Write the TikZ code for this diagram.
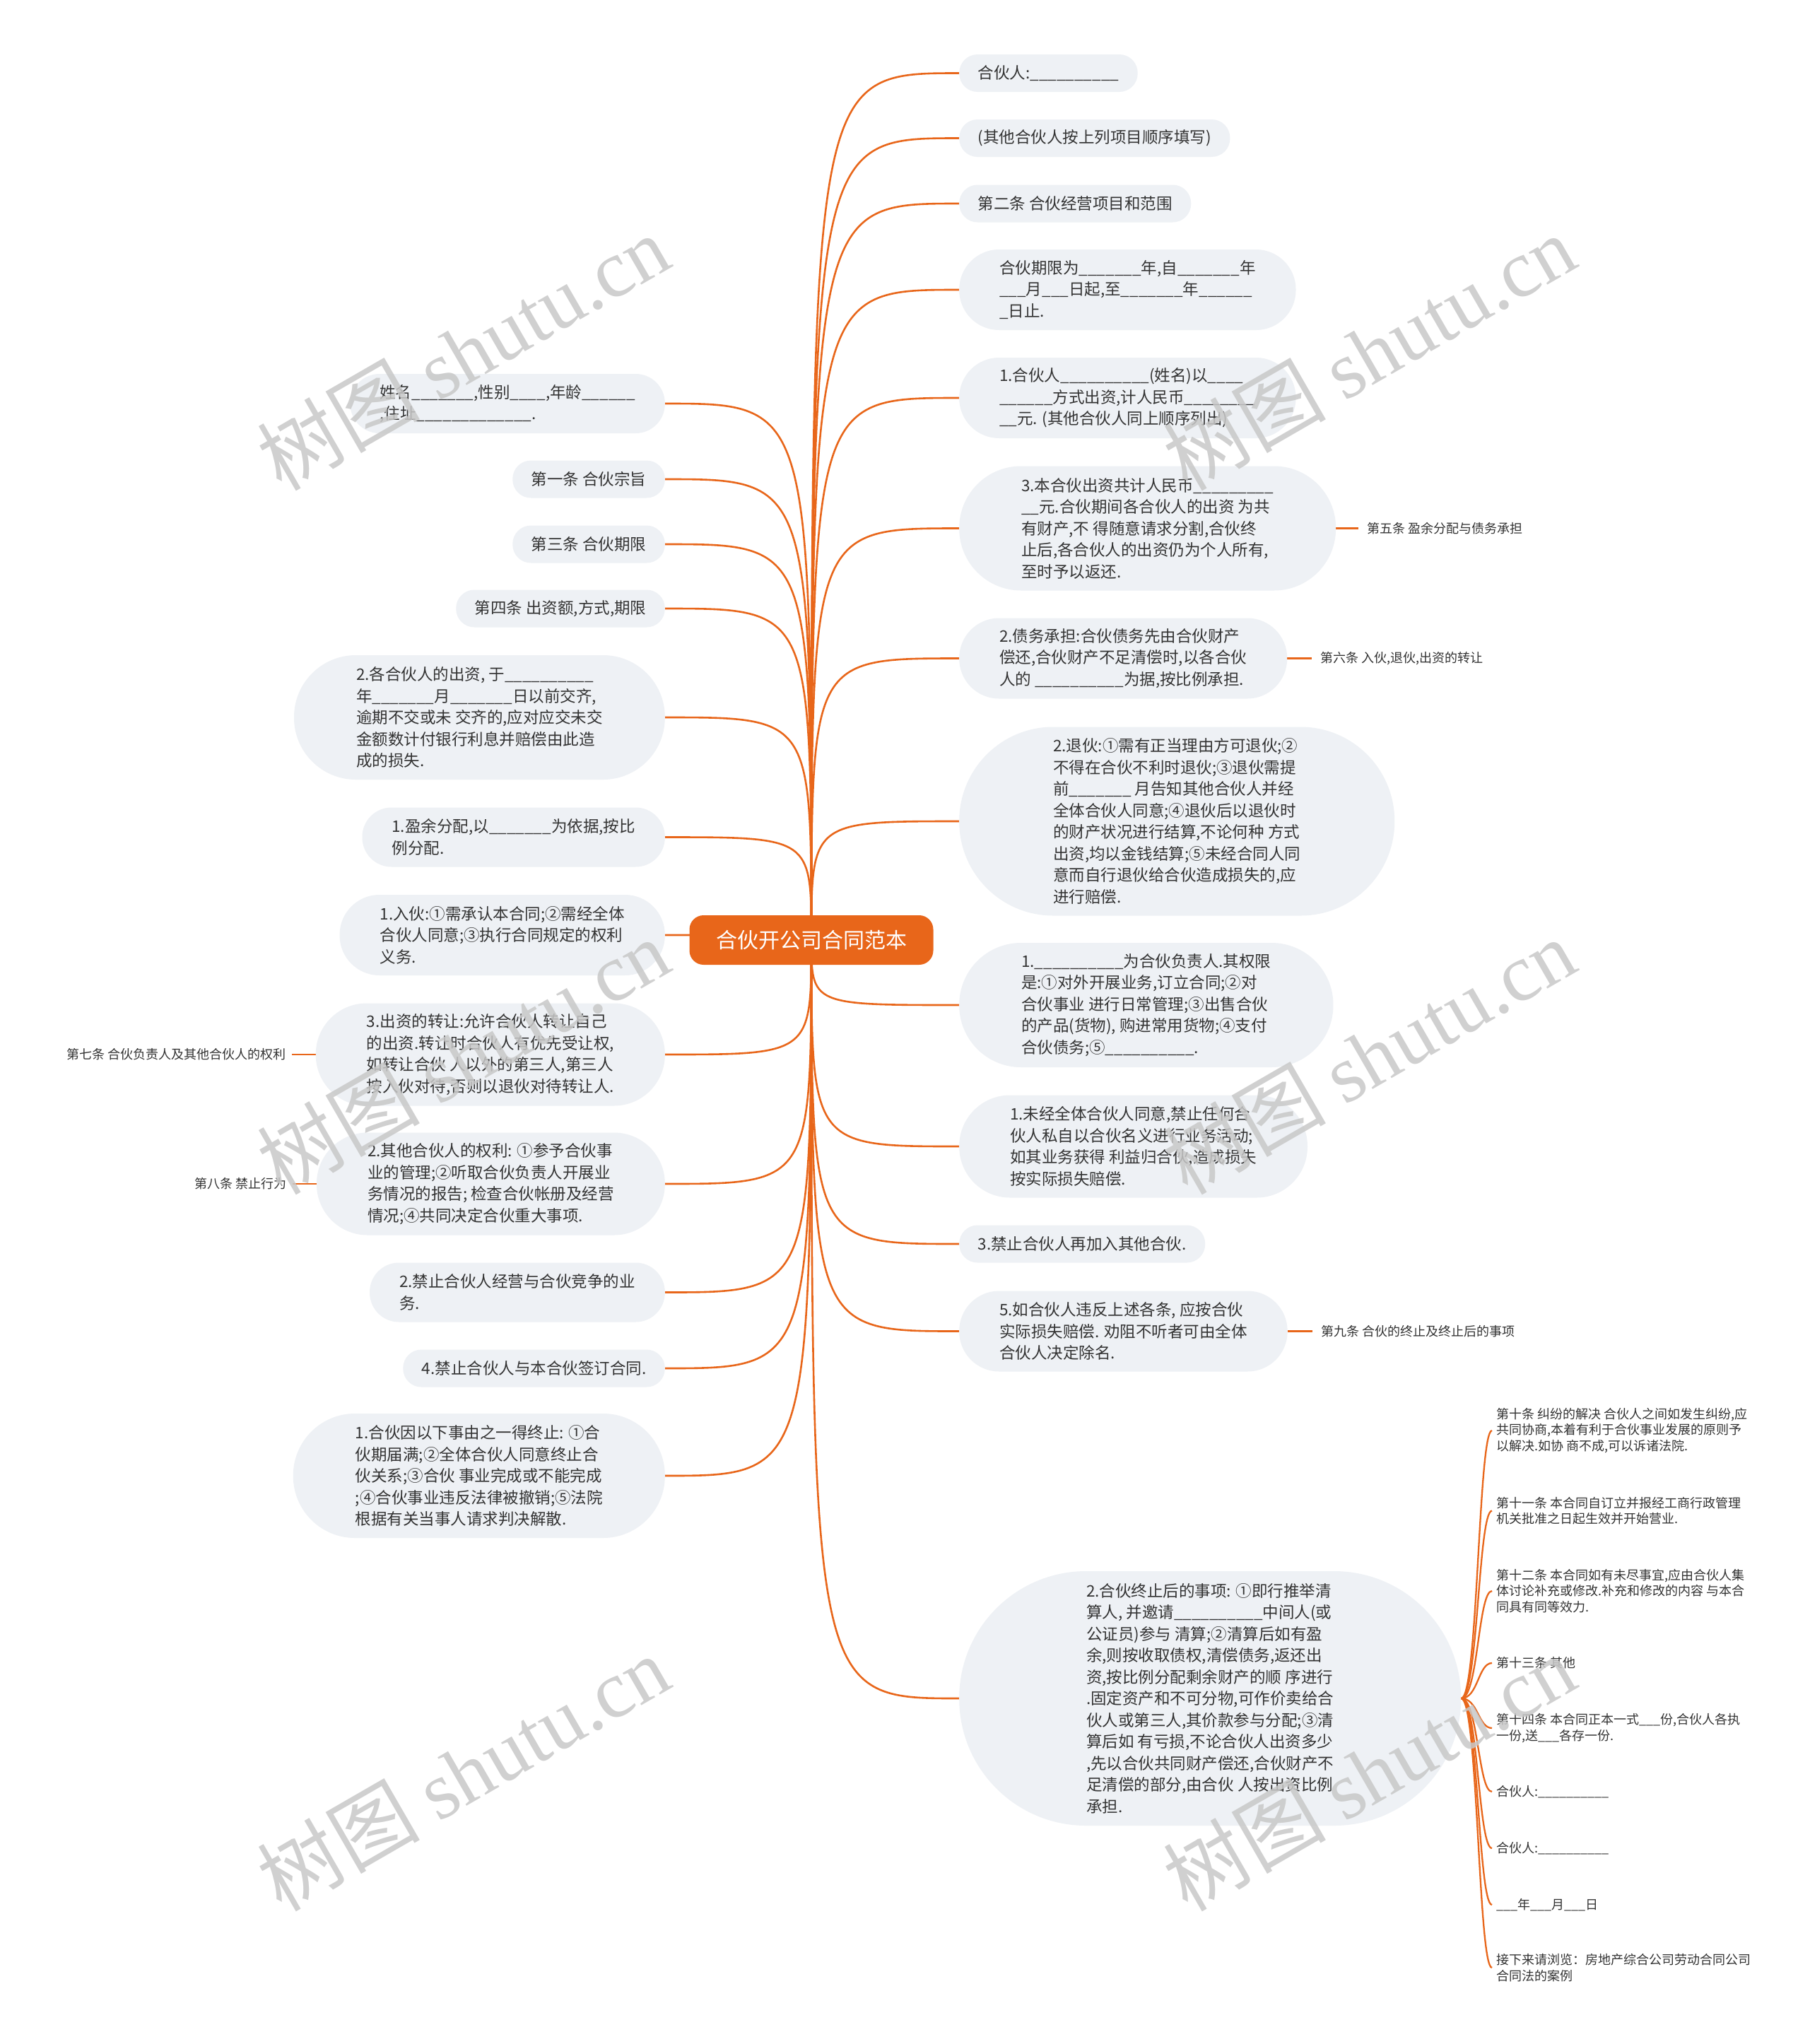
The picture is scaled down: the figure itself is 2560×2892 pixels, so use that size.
\documentclass[tikz,border=0pt]{standalone}
\usepackage{fontspec}
\setmainfont{Noto Sans CJK SC}
\newfontfamily\wmfont{Liberation Serif}
\usetikzlibrary{positioning,calc}
\definecolor{orng}{RGB}{232,102,26}
\definecolor{boxfill}{RGB}{238,241,245}
\definecolor{txt}{RGB}{51,51,51}
\definecolor{wm}{RGB}{200,200,200}
\newcount\uscnt
\newcommand\usc[1]{\uscnt=#1\relax\loop\_\advance\uscnt by -1\relax\ifnum\uscnt>0\repeat}
\pgfdeclarelayer{back}\pgfdeclarelayer{bg}\pgfdeclarelayer{fg}
\pgfsetlayers{back,bg,main,fg}
\tikzset{
  every node/.style={text=txt},
  box/.style={rectangle, fill=boxfill, inner ysep=0pt, align=left,
    font=\fontsize{22.5}{30.5}\selectfont},
  n1/.style={box, inner xsep=26.5pt, minimum height=53pt, rounded corners=26pt},
  n2/.style={box, inner xsep=42pt, minimum height=84pt, rounded corners=41.5pt},
  n3/.style={box, inner xsep=57pt, minimum height=114pt, rounded corners=56.5pt},
  n4/.style={box, inner xsep=72pt, minimum height=145pt, rounded corners=72pt},
  n5/.style={box, inner xsep=88pt, minimum height=176pt, rounded corners=87.5pt},
  n8/.style={box, inner xsep=133pt, minimum height=267pt, rounded corners=133pt},
  n11/.style={box, inner xsep=180pt, minimum height=360pt, rounded corners=179.5pt},
  rgt/.style={anchor=west},
  lft/.style={anchor=east},
  rootbox/.style={rectangle, rounded corners=20pt, fill=orng, text=white, minimum width=345pt,
    minimum height=70pt, inner sep=0pt, font=\fontsize{30}{36}\selectfont},
  conn/.style={draw=orng, line width=2.6pt},
  lab/.style={font=\fontsize{18}{22.5}\selectfont, inner ysep=2pt, align=left},
  labR/.style={lab, inner xsep=12pt},
  labL/.style={lab, inner xsep=8pt},
  itemnode/.style={lab, anchor=west, inner xsep=6pt},
  wmark/.style={text=wm, text opacity=0.85, rotate=30, inner sep=0pt, font=\fontsize{115}{115}\selectfont}
}
\begin{document}
\begin{tikzpicture}[x=1pt,y=-1pt]
\useasboundingbox (0,0) rectangle (2560,2892);
\begin{pgfonlayer}{back}
\fill[white] (0,0) rectangle (2560,2892);
\end{pgfonlayer}

\node[rootbox] (root) at (1148,1330) {合伙开公司合同范本};

% right column
\node[n1,rgt] (R1) at (1357,103.5) {合伙人:\usc{10}};
\node[n1,rgt] (R2) at (1357,195.5) {(其他合伙人按上列项目顺序填写)};
\node[n1,rgt] (R3) at (1357,288) {第二条 合伙经营项目和范围};
\node[n3,rgt] (R4) at (1357,410) {合伙期限为\usc{7}年,自\usc{7}年\\\usc{3}月\usc{3}日起,至\usc{7}年\usc{6}\\\_日止.};
\node[n3,rgt] (R5) at (1357,563) {1.合伙人\usc{10}(姓名)以\usc{4}\\\usc{6}方式出资,计人民币\usc{8}\\\usc{2}元. (其他合伙人同上顺序列出)};
\node[n5,rgt] (R6) at (1357,747.5) {3.本合伙出资共计人民币\usc{9}\\\usc{2}元.合伙期间各合伙人的出资 为共\\有财产,不 得随意请求分割,合伙终\\止后,各合伙人的出资仍为个人所有,\\至时予以返还.};
\node[n3,rgt] (R7) at (1357,931.5) {2.债务承担:合伙债务先由合伙财产\\偿还,合伙财产不足清偿时,以各合伙\\人的 \usc{10}为据,按比例承担.};
\node[n8,rgt] (R8) at (1357,1162) {2.退伙:①需有正当理由方可退伙;②\\不得在合伙不利时退伙;③退伙需提\\前\usc{7} 月告知其他合伙人并经\\全体合伙人同意;④退伙后以退伙时\\的财产状况进行结算,不论何种 方式\\出资,均以金钱结算;⑤未经合同人同\\意而自行退伙给合伙造成损失的,应\\进行赔偿.};
\node[n5,rgt] (R9) at (1357,1422) {1.\usc{10}为合伙负责人.其权限\\是:①对外开展业务,订立合同;②对\\合伙事业 进行日常管理;③出售合伙\\的产品(货物), 购进常用货物;④支付\\合伙债务;⑤\usc{10}.};
\node[n4,rgt] (R10) at (1357,1622) {1.未经全体合伙人同意,禁止任何合\\伙人私自以合伙名义进行业务活动;\\如其业务获得 利益归合伙,造成损失\\按实际损失赔偿.};
\node[n1,rgt] (R11) at (1357,1760) {3.禁止合伙人再加入其他合伙.};
\node[n3,rgt] (R12) at (1357,1883.5) {5.如合伙人违反上述各条, 应按合伙\\实际损失赔偿. 劝阻不听者可由全体\\合伙人决定除名.};
\node[n11,rgt] (R13) at (1357,2403) {2.合伙终止后的事项: ①即行推举清\\算人, 并邀请\usc{10}中间人(或\\公证员)参与 清算;②清算后如有盈\\余,则按收取债权,清偿债务,返还出\\资,按比例分配剩余财产的顺 序进行\\.固定资产和不可分物,可作价卖给合\\伙人或第三人,其价款参与分配;③清\\算后如 有亏损,不论合伙人出资多少\\,先以合伙共同财产偿还,合伙财产不\\足清偿的部分,由合伙 人按出资比例\\承担.};

% left column
\node[n2,lft] (L1) at (941,571) {姓名\usc{7},性别\usc{4},年龄\usc{6}\\,住址\usc{13}.};
\node[n1,lft] (L2) at (941,678) {第一条 合伙宗旨};
\node[n1,lft] (L3) at (941,770) {第三条 合伙期限};
\node[n1,lft] (L4) at (941,861) {第四条 出资额,方式,期限};
\node[n5,lft] (L5) at (941,1015) {2.各合伙人的出资, 于\usc{10}\\年\usc{7}月\usc{7}日以前交齐,\\逾期不交或未 交齐的,应对应交未交\\金额数计付银行利息并赔偿由此造\\成的损失.};
\node[n2,lft] (L6) at (941,1184.5) {1.盈余分配,以\usc{7}为依据,按比\\例分配.};
\node[n3,lft] (L7) at (941,1323) {1.入伙:①需承认本合同;②需经全体\\合伙人同意;③执行合同规定的权利\\义务.};
\node[n4,lft] (L8) at (941,1492) {3.出资的转让:允许合伙人转让自己\\的出资.转让时合伙人有优先受让权,\\如转让合伙 人以外的第三人,第三人\\按入伙对待,否则以退伙对待转让人.};
\node[n4,lft] (L9) at (941,1675) {2.其他合伙人的权利: ①参予合伙事\\业的管理;②听取合伙负责人开展业\\务情况的报告; 检查合伙帐册及经营\\情况;④共同决定合伙重大事项.};
\node[n2,lft] (L10) at (941,1828.5) {2.禁止合伙人经营与合伙竞争的业\\务.};
\node[n1,lft] (L11) at (941,1936) {4.禁止合伙人与本合伙签订合同.};
\node[n5,lft] (L12) at (941,2088) {1.合伙因以下事由之一得终止: ①合\\伙期届满;②全体合伙人同意终止合\\伙关系;③合伙 事业完成或不能完成\\;④合伙事业违反法律被撤销;⑤法院\\根据有关当事人请求判决解散.};

% side labels
\node[labR, right=32pt of R6] (A5) {第五条 盈余分配与债务承担};
\node[labR, right=35pt of R7] (A6) {第六条 入伙,退伙,出资的转让};
\node[labR, right=35pt of R12] (A9) {第九条 合伙的终止及终止后的事项};
\node[labL, left=34pt of L8] (A7) {第七条 合伙负责人及其他合伙人的权利};
\node[labL, left=34pt of L9] (A8) {第八条 禁止行为};

% items after R13
\node[itemnode] (I1) at (2111,2024) {第十条 纠纷的解决 合伙人之间如发生纠纷,应\\共同协商,本着有利于合伙事业发展的原则予\\以解决.如协 商不成,可以诉诸法院.};
\node[itemnode] (I2) at (2111,2137.5) {第十一条 本合同自订立并报经工商行政管理\\机关批准之日起生效并开始营业.};
\node[itemnode] (I3) at (2111,2251) {第十二条 本合同如有未尽事宜,应由合伙人集\\体讨论补充或修改.补充和修改的内容 与本合\\同具有同等效力.};
\node[itemnode] (I4) at (2111,2353) {第十三条 其他};
\node[itemnode] (I5) at (2111,2445) {第十四条 本合同正本一式\usc{3}份,合伙人各执\\一份,送\usc{3}各存一份.};
\node[itemnode] (I6) at (2111,2535) {合伙人:\usc{10}};
\node[itemnode] (I7) at (2111,2615) {合伙人:\usc{10}};
\node[itemnode] (I8) at (2111,2695) {\usc{3}年\usc{3}月\usc{3}日};
\node[itemnode] (I9) at (2111,2784) {接下来请浏览：房地产综合公司劳动合同公司\\合同法的案例};

\begin{pgfonlayer}{bg}
\foreach \i in {1,...,13}
  \draw[conn] (root.center) .. controls (root.center |- R\i.west) .. (R\i.west);
\foreach \i in {1,...,12}
  \draw[conn] (root.center) .. controls (root.center |- L\i.east) .. (L\i.east);
\draw[conn] (R6.east) -- (A5.west);
\draw[conn] (R7.east) -- (A6.west);
\draw[conn] (R12.east) -- (A9.west);
\draw[conn] (L8.west) -- (A7.east);
\draw[conn] (L9.west) -- (A8.east);
\foreach \i in {1,...,9}
  \draw[conn, line width=2.3pt] (R13.east) .. controls ($(R13.east)+(24,0)$) and ($(R13.east |- I\i.west)+(24,0)$) .. (I\i.west);
\end{pgfonlayer}

\begin{pgfonlayer}{fg}
\node[wmark] (W1) at (655,498) {树图 {\wmfont shutu.cn}};
\node[wmark] (W2) at (1937,498) {树图 {\wmfont shutu.cn}};
\node[wmark] (W3) at (655,1494) {树图 {\wmfont shutu.cn}};
\node[wmark] (W4) at (1937,1494) {树图 {\wmfont shutu.cn}};
\node[wmark] (W5) at (655,2508) {树图 {\wmfont shutu.cn}};
\node[wmark] (W6) at (1937,2508) {树图 {\wmfont shutu.cn}};
\end{pgfonlayer}
\end{tikzpicture}
\end{document}
